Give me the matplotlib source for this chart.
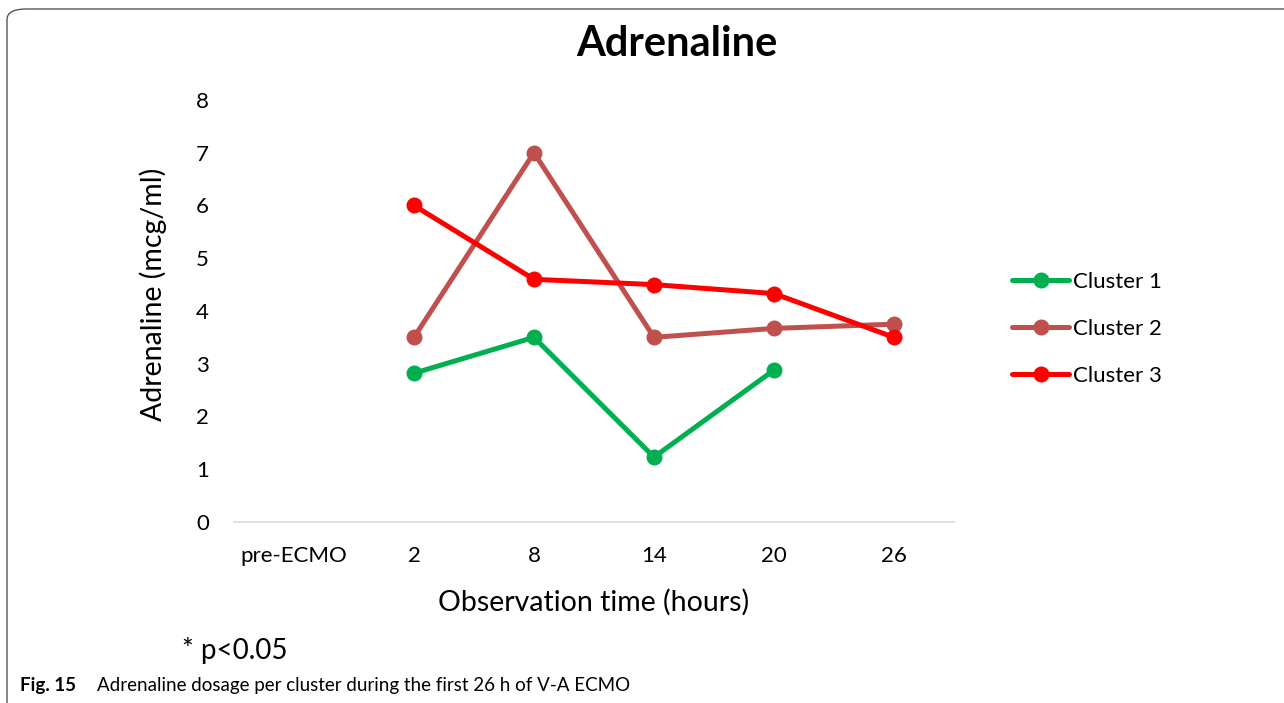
import matplotlib.pyplot as plt
import numpy as np
from matplotlib.patches import FancyBboxPatch

categories = ["pre-ECMO", "2", "8", "14", "20", "26"]
cluster1 = [np.nan, 2.82, 3.5, 1.23, 2.88, np.nan]
cluster2 = [np.nan, 3.5, 7.0, 3.5, 3.67, 3.75]
cluster3 = [np.nan, 6.0, 4.6, 4.5, 4.33, 3.5]
series_names = ["Cluster 1", "Cluster 2", "Cluster 3"]
series_colors = ["#00B050", "#C0504D", "#FF0000"]

plt.rcParams['font.family'] = ['Lato', 'DejaVu Sans']

fig = plt.figure(figsize=(12.84, 7.03), dpi=100)
ax = fig.add_axes([0.1822, 0.2575, 0.5608, 0.6003])

# рамка вокруг рисунка
frame = FancyBboxPatch((7 / 1284, -0.05), 1.2, 1 - 9 / 703 + 0.05,
                       boxstyle="round,pad=0,rounding_size=0.015",
                       transform=fig.transFigure, facecolor='none',
                       edgecolor='#555555', linewidth=1.0, clip_on=False)
fig.add_artist(frame)

x = np.arange(len(categories))
for vals, name, color in zip([cluster1, cluster2, cluster3], series_names, series_colors):
    ax.plot(x, vals, color=color, linewidth=3.6, marker='o', markersize=10.5,
            label=name, solid_capstyle='round')

ax.set_xlim(-0.5, len(categories) - 0.5)
ax.set_ylim(0, 8)
ax.set_xticks(x)
ax.set_xticklabels(categories)
ax.set_yticks(range(0, 9))
ax.tick_params(axis='both', length=0, labelsize=16, colors='black')
ax.tick_params(axis='x', pad=17)
ax.tick_params(axis='y', pad=18)
for s in ['top', 'right', 'left']:
    ax.spines[s].set_visible(False)
ax.spines['bottom'].set_color('#D9D9D9')
ax.spines['bottom'].set_linewidth(1.2)

ax.set_ylabel("Adrenaline (mcg/ml)", fontsize=20.5)
ax.yaxis.set_label_coords(-0.093, 0.54)
ax.set_xlabel("Observation time (hours)", fontsize=20.5, labelpad=17)
fig.text(677 / 1284, 1 - 44 / 703, "Adrenaline", fontsize=30, fontweight='bold',
         ha='center', va='center')

ax.legend(loc='center left', bbox_to_anchor=(1.053, 0.457), frameon=False,
          fontsize=16, handlelength=2.55, labelspacing=1.22, handletextpad=0.2)

fig.text(182 / 1284, 1 - 650 / 703, "* p<0.05", fontsize=20, ha='left', va='center')
fig.text(20 / 1284, 1 - 686 / 703, "Fig. 15", fontsize=13.5, fontweight='bold',
         ha='left', va='center')
fig.text(97 / 1284, 1 - 686 / 703, "Adrenaline dosage per cluster during the first 26 h of V-A ECMO",
         fontsize=13.5, ha='left', va='center')

fig.savefig("out.png", dpi=100)
